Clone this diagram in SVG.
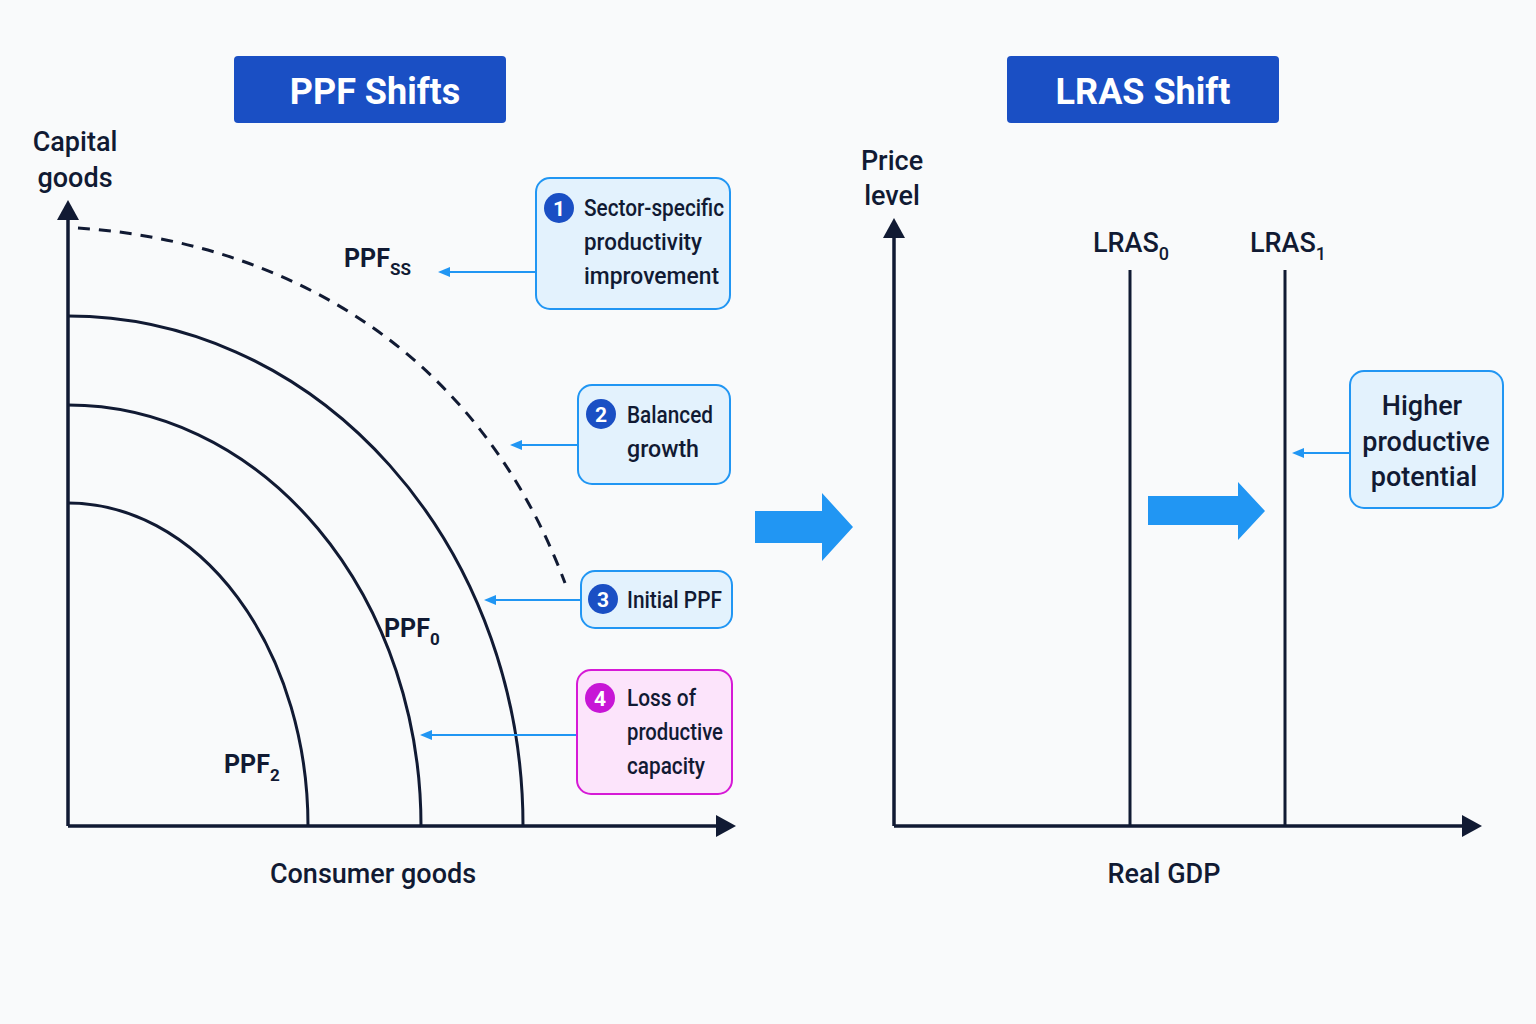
<svg xmlns="http://www.w3.org/2000/svg" width="1536" height="1024" viewBox="0 0 1536 1024">
<defs>
<style>
text{font-family:"Roboto","Liberation Sans",sans-serif;fill:#111a33}
.t{font-size:27px;font-weight:500}
.b{font-size:23px;font-weight:500}
.l{font-size:25px;font-weight:700}
.ax{stroke:#111a33;stroke-width:3.5;fill:none}
.c{stroke:#111a33;stroke-width:3;fill:none}
.box{fill:#e3f2fd;stroke:#2196f3;stroke-width:2}
.con{stroke:#2196f3;stroke-width:2;fill:none;marker-end:url(#ba)}
.hd{fill:#1a4fc4}
.ht{font-size:36px;font-weight:700;fill:#fff}
.n{fill:#fff;font-size:21px;font-weight:700}
</style>
<marker id="ba" markerWidth="12" markerHeight="10" refX="2" refY="5" orient="auto" markerUnits="userSpaceOnUse"><path d="M0,5L12,0L12,10z" transform="rotate(180 6 5)" fill="#2196f3"/></marker>
</defs>
<rect width="1536" height="1024" fill="#f9fafb"/>
<g id="title1"><rect class="hd" x="234" y="56" width="272" height="67" rx="4"/><text class="ht" x="375" y="104" text-anchor="middle">PPF Shifts</text></g>
<g id="title2"><rect class="hd" x="1007" y="56" width="272" height="67" rx="4"/><text class="ht" x="1143" y="104" text-anchor="middle">LRAS Shift</text></g>
<g id="ppf-axes">
<path class="ax" d="M68,826V218"/><path d="M57,220L68,200L79,220z" fill="#111a33"/>
<path class="ax" d="M68,826H718"/><path d="M716,815L736,826L716,837z" fill="#111a33"/>
<text class="t" x="75" y="151" text-anchor="middle">Capital</text><text class="t" x="75" y="187" text-anchor="middle">goods</text>
<text class="t" x="373" y="883" text-anchor="middle">Consumer goods</text>
</g>
<g id="curves">
<path class="c" d="M68,503A240,323 0 0 1 308,826"/>
<path class="c" d="M68,405A353,421 0 0 1 421,826"/>
<path class="c" d="M68,316A455,510 0 0 1 523,826"/>
<path class="c" stroke-dasharray="12,9" d="M78,228C260,240 470,330 565,583"/>
<text class="l" x="344" y="267">PPF<tspan font-size="17" dy="8">SS</tspan></text>
<text class="l" x="384" y="637">PPF<tspan font-size="17" dy="8">0</tspan></text>
<text class="l" x="224" y="773">PPF<tspan font-size="17" dy="8">2</tspan></text>
</g>
<g id="connectors">
<path class="con" d="M536,272H448"/>
<path class="con" d="M578,445H520"/>
<path class="con" d="M581,600H494"/>
<path class="con" d="M577,735H430"/>
<path class="con" d="M1350,453H1302"/>
</g>
<g id="n1"><rect class="box" x="536" y="178" width="194" height="131" rx="14"/><circle cx="559" cy="208" r="15" fill="#1a4fc4"/><text class="n" x="559" y="216" text-anchor="middle">1</text>
<text class="b" x="584" y="216" textLength="140" lengthAdjust="spacingAndGlyphs">Sector-specific</text><text class="b" x="584" y="250" textLength="118" lengthAdjust="spacingAndGlyphs">productivity</text><text class="b" x="584" y="284" textLength="135" lengthAdjust="spacingAndGlyphs">improvement</text></g>
<g id="n2"><rect class="box" x="578" y="385" width="152" height="99" rx="14"/><circle cx="601" cy="414" r="15" fill="#1a4fc4"/><text class="n" x="601" y="422" text-anchor="middle">2</text>
<text class="b" x="627" y="423" textLength="86" lengthAdjust="spacingAndGlyphs">Balanced</text><text class="b" x="627" y="457" textLength="72" lengthAdjust="spacingAndGlyphs">growth</text></g>
<g id="n3"><rect class="box" x="581" y="571" width="151" height="57" rx="14"/><circle cx="603" cy="599" r="15" fill="#1a4fc4"/><text class="n" x="603" y="607" text-anchor="middle">3</text>
<text class="b" x="627" y="608" textLength="95" lengthAdjust="spacingAndGlyphs">Initial PPF</text></g>
<g id="n4"><rect x="577" y="670" width="155" height="124" rx="14" fill="#fce4fb" stroke="#d61ad6" stroke-width="2"/><circle cx="600" cy="698" r="15" fill="#c716d6"/><text class="n" x="600" y="706" text-anchor="middle">4</text>
<text class="b" x="627" y="706" textLength="69" lengthAdjust="spacingAndGlyphs">Loss of</text><text class="b" x="627" y="740" textLength="96" lengthAdjust="spacingAndGlyphs">productive</text><text class="b" x="627" y="774" textLength="78" lengthAdjust="spacingAndGlyphs">capacity</text></g>
<g id="mid-arrow"><path d="M755,511H822V493L853,527L822,561V543H755z" fill="#2196f3"/></g>
<g id="lras-axes">
<path class="ax" d="M894,826V236"/><path d="M883,238L894,218L905,238z" fill="#111a33"/>
<path class="ax" d="M894,826H1464"/><path d="M1462,815L1482,826L1462,837z" fill="#111a33"/>
<text class="t" x="892" y="170" text-anchor="middle">Price</text><text class="t" x="892" y="205" text-anchor="middle">level</text>
<text class="t" x="1164" y="883" text-anchor="middle">Real GDP</text>
</g>
<g id="lras">
<path class="c" d="M1130,270V826"/><path class="c" d="M1285,270V826"/>
<text class="t" x="1093" y="252">LRAS<tspan font-size="18" dy="8">0</tspan></text>
<text class="t" x="1250" y="252">LRAS<tspan font-size="18" dy="8">1</tspan></text>
<path d="M1148,496H1238V482L1265,511L1238,540V525H1148z" fill="#2196f3"/>
</g>
<g id="n5"><rect class="box" x="1350" y="371" width="153" height="137" rx="14"/>
<text class="t" x="1422" y="415" text-anchor="middle">Higher</text><text class="t" x="1426" y="451" text-anchor="middle">productive</text><text class="t" x="1424" y="486" text-anchor="middle">potential</text></g>
</svg>
